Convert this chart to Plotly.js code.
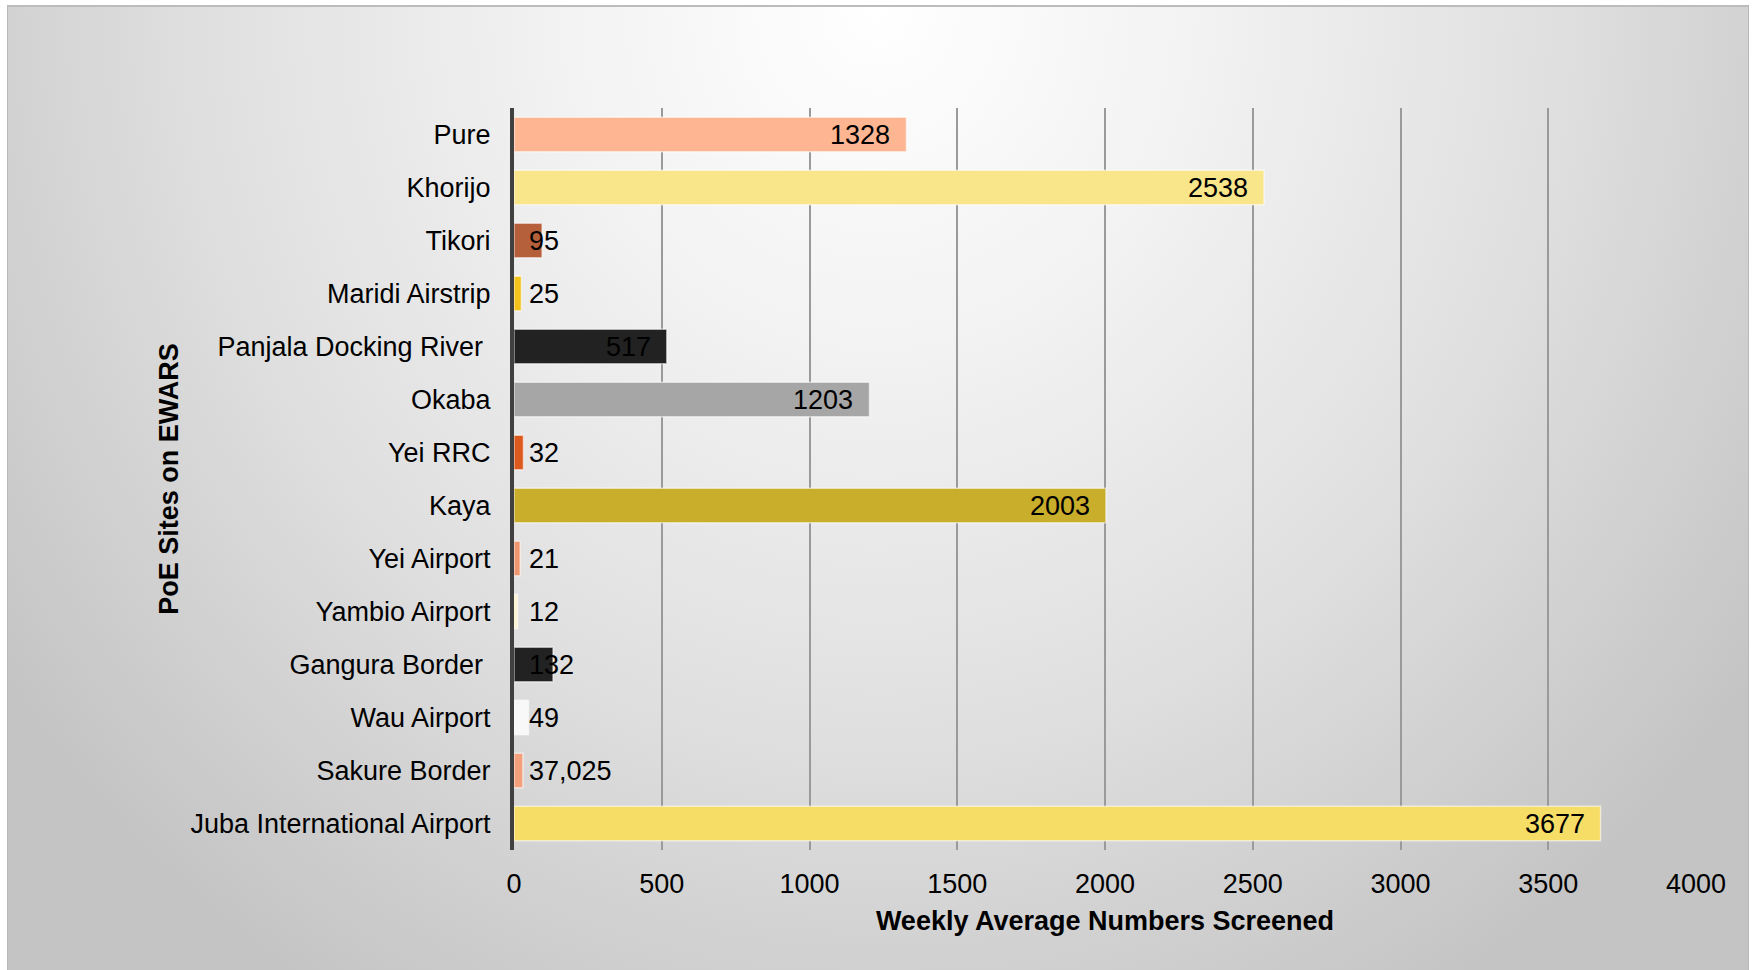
<!DOCTYPE html>
<html>
<head>
<meta charset="utf-8">
<script src="https://cdn.plot.ly/plotly-3.0.1.min.js"></script>
<style>
  html, body { margin: 0; padding: 0; background: #ffffff; }
  #wrap { position: relative; width: 1756px; height: 970px; overflow: hidden; }
  #bg {
    position: absolute; left: 7px; top: 5px; width: 1740px; height: 965px;
    border-top: 2px solid #bcbcbc; border-left: 1px solid #b8b8b8; border-right: 1px solid #b8b8b8;
    background: radial-gradient(ellipse 62% 120% at 50% 0%, #ffffff 0%, #f2f2f2 30%, #e0e0e0 62%, #cfcfcf 85%, #c4c4c4 100%);
  }
  #chart { position: absolute; left: 0; top: 0; width: 1756px; height: 970px; }
</style>
</head>
<body>
<div id="wrap">
  <div id="bg"></div>
  <div id="chart"></div>
</div>
<script>
// Categories listed from top to bottom
const sites = ["Pure", "Khorijo", "Tikori", "Maridi Airstrip", "Panjala Docking River\u00a0", "Okaba",
  "Yei RRC", "Kaya", "Yei Airport", "Yambio Airport", "Gangura Border\u00a0", "Wau Airport",
  "Sakure Border", "Juba International Airport"];
const screened = [1328, 2538, 95, 25, 517, 1203, 32, 2003, 21, 12, 132, 49, 30, 3677];
const valueLabels = ["1328", "2538", "95", "25", "517", "1203", "32", "2003", "21", "12", "132", "49", "37,025", "3677"];
const barColors = ["#FDB592", "#F9E58A", "#B5603A", "#F3C21B", "#222222", "#A6A6A6", "#DD5A1F",
  "#C8AE2B", "#EE9670", "#FDF3D0", "#222222", "#F8F8F8", "#F4A07C", "#F5DD66"];
const xTicks = [0, 500, 1000, 1500, 2000, 2500, 3000, 3500, 4000];

const FONT = "Liberation Sans, Arial, sans-serif";

const trace = {
  type: "bar",
  orientation: "h",
  y: sites,
  x: screened,
  marker: { color: barColors, line: { color: "rgba(255,255,255,0.55)", width: 1.5 } },
  hoverinfo: "none",
  showlegend: false
};

const annotations = screened.map((v, i) => {
  const big = v > 300;
  return {
    x: big ? v : 0,
    y: sites[i],
    xref: "x", yref: "y",
    text: valueLabels[i],
    showarrow: false,
    xanchor: big ? "right" : "left",
    xshift: big ? -14 : 13,
    yanchor: "middle",
    font: { family: FONT, size: 27, color: "#000000" }
  };
});

const layout = {
  width: 1756, height: 970,
  paper_bgcolor: "rgba(0,0,0,0)",
  plot_bgcolor: "rgba(0,0,0,0)",
  margin: { l: 514, r: 60, t: 108, b: 120, pad: 0 },
  bargap: 0.35,
  font: { family: FONT, size: 27, color: "#000000" },
  xaxis: {
    range: [0, 4000],
    tickvals: xTicks,
    ticktext: xTicks.map(String),
    showgrid: true, gridcolor: "#9a9a9a", gridwidth: 2,
    zeroline: false, showline: false,
    ticks: "", ticklabelstandoff: 15,
    tickfont: { family: FONT, size: 27, color: "#000" },
    title: { text: "<b>Weekly Average Numbers Screened</b>", standoff: 13,
             font: { family: FONT, size: 27, color: "#000" } },
    fixedrange: true
  },
  yaxis: {
    type: "category",
    autorange: "reversed",
    showgrid: false, zeroline: false,
    showline: true, linecolor: "#404040", linewidth: 4,
    ticks: "", ticklabelstandoff: 14,
    tickfont: { family: FONT, size: 27, color: "#000" },
    title: { text: "<b>PoE Sites on EWARS</b>", standoff: 5,
             font: { family: FONT, size: 27, color: "#000" } },
    fixedrange: true
  },
  annotations: annotations
};

Plotly.newPlot("chart", [trace], layout, { displayModeBar: false, staticPlot: true });
</script>
</body>
</html>
